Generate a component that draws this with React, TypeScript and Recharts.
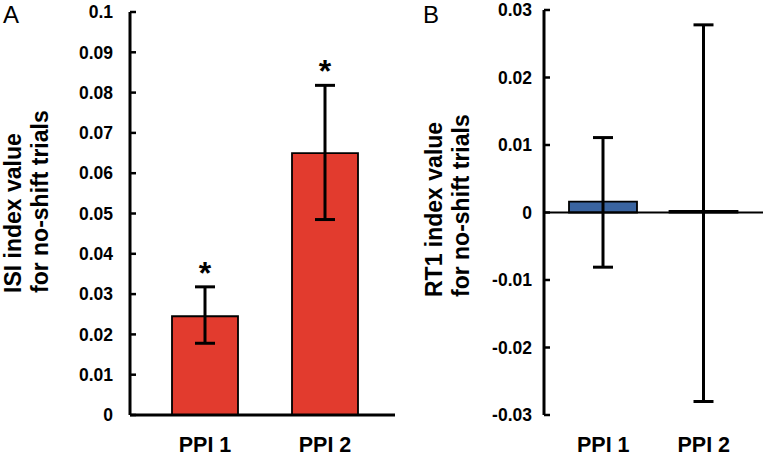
import React from 'react';
import {
  BarChart,
  Bar,
  XAxis,
  YAxis,
  ErrorBar,
  ReferenceLine,
  ReferenceDot,
} from 'recharts';

const categories = ['PPI 1', 'PPI 2'];

// Panel A: ISI index
const isiValues = [0.0245, 0.065];
const isiErrLow = [0.0067, 0.0165];
const isiErrHigh = [0.0073, 0.0168];
const isiSignificant = [true, true];
const isiTicks = [0, 0.01, 0.02, 0.03, 0.04, 0.05, 0.06, 0.07, 0.08, 0.09, 0.1];

// Panel B: RT1 index
const rtValues = [0.0016, 0.00025];
const rtErrLow = [0.0097, 0.02825];
const rtErrHigh = [0.0095, 0.02755];
const rtTicks = [-0.03, -0.02, -0.01, 0, 0.01, 0.02, 0.03];

const FONT = '"Liberation Sans", Arial, sans-serif';

const isiData = categories.map((name, i) => ({
  name,
  value: isiValues[i],
  err: [isiErrLow[i], isiErrHigh[i]],
  top: isiValues[i] + isiErrHigh[i],
}));

const rtData = categories.map((name, i) => ({
  name,
  value: rtValues[i],
  err: [rtErrLow[i], rtErrHigh[i]],
}));

const fmt = (v: number) => String(+v.toFixed(3));

const tickStyle = { fill: '#000', fontSize: 17.5, fontWeight: 'bold', fontFamily: FONT };
const catStyle = { fill: '#000', fontSize: 21.5, fontWeight: 'bold', fontFamily: FONT };

const AxisTitle = (letter: string, lx: number, ly: number, lines: string[], x0: number, y0: number) => () => (
  <g fontFamily={FONT}>
    <text x={lx} y={ly} fontSize={24} fill="#000">{letter}</text>
    {lines.map((t, i) => (
      <text
        key={t}
        x={x0 + i * 27}
        y={y0}
        transform={`rotate(-90 ${x0 + i * 27} ${y0})`}
        fontSize={23}
        fontWeight="bold"
        fill="#000"
        textAnchor="start"
      >
        {t}
      </text>
    ))}
  </g>
);

const Star = (p: any) => (
  <text x={p.cx} y={p.cy - 3} textAnchor="middle" fontSize={32} fontWeight="bold" fontFamily={FONT} fill="#000">
    *
  </text>
);

const App: React.FC = () => {
  return (
    <div style={{ position: 'absolute', left: 0, top: 0, width: 765, height: 456, background: '#fff' }}>
      <div style={{ position: 'absolute', left: 0, top: 0 }}>
        <BarChart width={400} height={456} data={isiData} margin={{ top: 12, right: 5, bottom: 0, left: 0 }}>
          <XAxis
            dataKey="name"
            height={41}
            padding={{ left: 15, right: 10 }}
            axisLine={{ stroke: '#000', strokeWidth: 3 }}
            tickLine={false}
            tickSize={0}
            tickMargin={22}
            tick={catStyle}
          />
          <YAxis
            width={130}
            domain={[0, 0.1]}
            ticks={isiTicks}
            tickFormatter={fmt}
            interval={0}
            axisLine={{ stroke: '#000', strokeWidth: 3 }}
            tickLine={{ stroke: '#000', strokeWidth: 2.5 }}
            tickSize={-6}
            tickMargin={23}
            tick={tickStyle}
            label={{
              content: AxisTitle('A', 3, 23, ['ISI index value', 'for no-shift trials'], 21, 293),
            }}
          />
          <Bar dataKey="value" fill="#e23b2e" stroke="#000" strokeWidth={1.8} barSize={66} isAnimationActive={false}>
            <ErrorBar dataKey="err" width={10} strokeWidth={3} stroke="#000" direction="y" />
          </Bar>
          {isiData.map((d, i) =>
            isiSignificant[i] ? (
              <ReferenceDot key={d.name} x={d.name} y={d.top} r={0} shape={Star} />
            ) : null
          )}
        </BarChart>
      </div>
      <div style={{ position: 'absolute', left: 400, top: 0 }}>
        <BarChart width={365} height={456} data={rtData} margin={{ top: 10, right: 2, bottom: 0, left: 0 }}>
          <XAxis
            dataKey="name"
            height={41}
            padding={{ left: 9, right: 9 }}
            axisLine={false}
            tickLine={false}
            tickSize={0}
            tickMargin={22}
            tick={catStyle}
          />
          <YAxis
            width={144}
            domain={[-0.03, 0.03]}
            ticks={rtTicks}
            tickFormatter={fmt}
            interval={0}
            axisLine={{ stroke: '#000', strokeWidth: 3 }}
            tickLine={{ stroke: '#000', strokeWidth: 2.5 }}
            tickSize={-6}
            tickMargin={18}
            tick={tickStyle}
            label={{
              content: AxisTitle('B', 23, 23, ['RT1 index value', 'for no-shift trials'], 42, 297),
            }}
          />
          <Bar dataKey="value" fill="#3a64a0" stroke="#000" strokeWidth={1.8} barSize={68} isAnimationActive={false}>
            <ErrorBar dataKey="err" width={10} strokeWidth={3} stroke="#000" direction="y" />
          </Bar>
          <ReferenceLine y={0} stroke="#000" strokeWidth={2} />
        </BarChart>
      </div>
    </div>
  );
};

export default App;
